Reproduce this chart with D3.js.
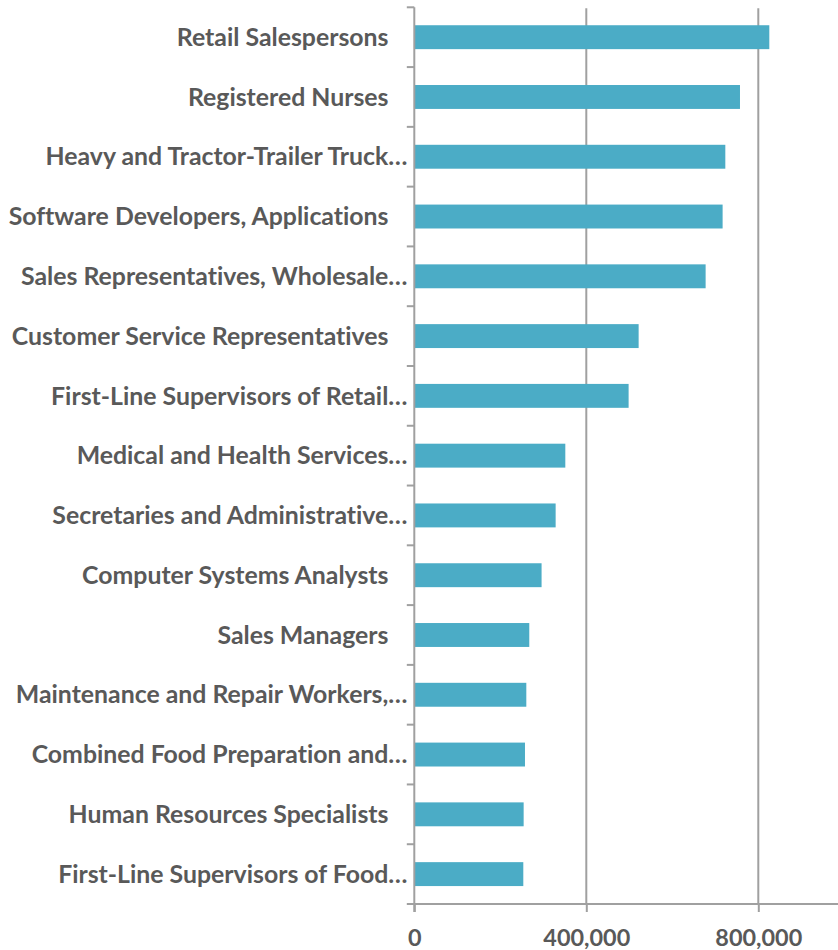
<!DOCTYPE html>
<html>
<head>
<meta charset="utf-8">
<script src="https://cdn.jsdelivr.net/npm/d3@7/dist/d3.min.js"></script>
<style>
  html, body { margin: 0; padding: 0; background: #fff; }
  svg { display: block; }
  text { font-variant-ligatures: none; font-feature-settings: "liga" 0, "clig" 0; }
</style>
</head>
<body>
<svg id="chart" width="838" height="950"></svg>
<script>
const categories = [
  "Retail Salespersons",
  "Registered Nurses",
  "Heavy and Tractor-Trailer Truck…",
  "Software Developers, Applications",
  "Sales Representatives, Wholesale…",
  "Customer Service Representatives",
  "First-Line Supervisors of Retail…",
  "Medical and Health Services…",
  "Secretaries and Administrative…",
  "Computer Systems Analysts",
  "Sales Managers",
  "Maintenance and Repair Workers,…",
  "Combined Food Preparation and…",
  "Human Resources Specialists",
  "First-Line Supervisors of Food…"
];
const values = [825600, 757400, 723300, 717000, 677500, 521700, 498400, 351200, 328700, 296000, 267400, 260500, 257400, 254300, 253500];
const tickValues = [0, 400000, 800000];
const tickLabels = ["0", "400,000", "800,000"];

(function () {
const svg = d3.select("#chart");
const W = 838;
const plotTop = 7.3, plotBottom = 904, x0 = 414.3;
const gridColor = "#A0A0A0";
const textColor = "#595959";
const FONT = "Lato, 'Open Sans', sans-serif";

const x = d3.scaleLinear().domain([0, 800000]).range([x0, 758.3]);
const y = d3.scaleBand().domain(categories).range([plotTop, plotBottom]).paddingInner(0.6).paddingOuter(0.3);

function fitSize(text, targetW, weight) {
  const t = svg.append("text").attr("font-family", FONT).attr("font-weight", weight).attr("font-size", 100).text(text);
  const w = t.node().getComputedTextLength();
  t.remove();
  return 100 * targetW / w;
}
const labelSize = fitSize("Software Developers, Applications", 380, "bold");
const tickSize = fitSize("400,000", 87, "bold");

// gridlines
svg.append("g").selectAll("line").data(tickValues.filter(d => d > 0)).join("line")
  .attr("x1", d => x(d)).attr("x2", d => x(d))
  .attr("y1", plotTop + 1).attr("y2", plotBottom)
  .attr("stroke", gridColor).attr("stroke-width", 2);

// bars
svg.append("g").selectAll("rect").data(categories).join("rect")
  .attr("x", x(0))
  .attr("y", d => y(d))
  .attr("width", (d, i) => x(values[i]) - x(0))
  .attr("height", y.bandwidth())
  .attr("fill", "#4BACC6");

// x axis
const xAxis = d3.axisBottom(x).tickValues(tickValues).tickSize(8).tickFormat((d, i) => tickLabels[i]);
const gx = svg.append("g").attr("transform", `translate(0,${plotBottom})`).call(xAxis);
gx.select(".domain").remove();
gx.append("line").attr("x1", x0).attr("x2", W).attr("y1", 0).attr("y2", 0)
  .attr("stroke", gridColor).attr("stroke-width", 2);
gx.selectAll(".tick line").attr("stroke", gridColor).attr("stroke-width", 2);
gx.selectAll(".tick text")
  .attr("font-family", FONT).attr("font-weight", "bold").attr("font-size", tickSize)
  .attr("fill", textColor).attr("dy", null).attr("y", 42);

// y axis line and ticks at band boundaries
const step = y.step();
const offset = (step - y.bandwidth()) / 2;
const bounds = categories.map(c => y(c) - offset).concat([y(categories[categories.length - 1]) + y.bandwidth() + offset]);
svg.append("line").attr("x1", x0).attr("x2", x0).attr("y1", plotTop).attr("y2", plotBottom + 8)
  .attr("stroke", gridColor).attr("stroke-width", 2);
svg.append("g").selectAll("line").data(bounds).join("line")
  .attr("x1", x0 - 7.5).attr("x2", x0)
  .attr("y1", d => d).attr("y2", d => d)
  .attr("stroke", gridColor).attr("stroke-width", 2);

// labels
svg.append("g").selectAll("text").data(categories).join("text")
  .attr("x", d => d.endsWith("…") ? 407.5 : 388.5)
  .attr("y", d => y(d) + y.bandwidth() / 2)
  .attr("dy", "0.35em")
  .attr("text-anchor", "end")
  .attr("font-family", FONT).attr("font-weight", "bold").attr("font-size", labelSize)
  .attr("fill", textColor)
  .text(d => d);
})();
</script>
</body>
</html>
